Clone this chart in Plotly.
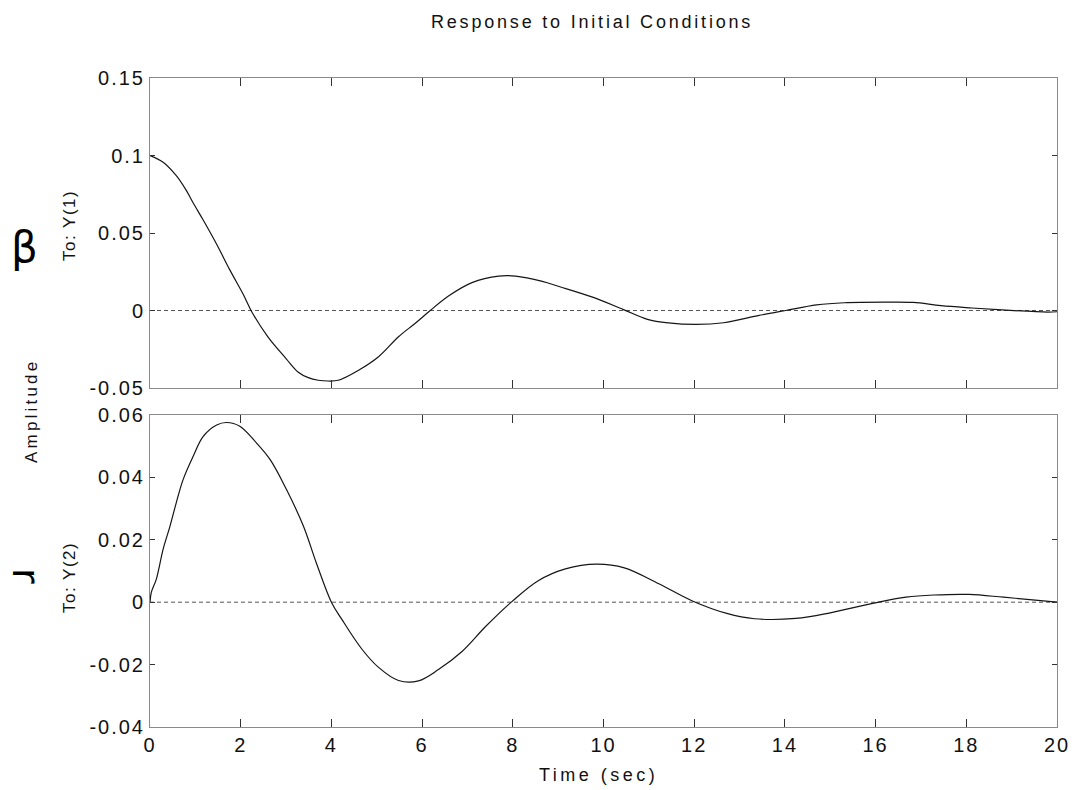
import plotly.graph_objects as go

# ---- data ----
t_top = [0, 0.29, 0.58, 0.8, 0.95, 1.17, 1.47, 1.76, 2.06, 2.24, 2.6, 3.0, 3.27, 3.49, 3.71,
         3.93, 4.15, 4.6, 5.04, 5.48, 5.85, 6.18, 6.59, 7.1, 7.69, 8.06, 8.65, 9.02, 9.76,
         10.44, 10.97, 11.43, 12.04, 12.65, 13.41, 14.02, 14.7, 15.31, 16.22, 16.83, 17.44,
         18.12, 18.88, 19.79, 20]
y_top = [0.100, 0.0957, 0.087, 0.0775, 0.0695, 0.0585, 0.0427, 0.0262, 0.0102, -0.0006,
         -0.017, -0.031, -0.0398, -0.0433, -0.045, -0.0455, -0.045, -0.0385, -0.0298,
         -0.0169, -0.0082, 0.0, 0.0095, 0.018, 0.0222, 0.0222, 0.0188, 0.0155, 0.0086,
         0.0006, -0.0057, -0.008, -0.0090, -0.0079, -0.0033, 0.0, 0.0036, 0.005, 0.0054,
         0.0052, 0.0031, 0.0016, 0.0002, -0.001, -0.0008]

t_bot = [0, 0.03, 0.14, 0.29, 0.44, 0.58, 0.73, 0.95, 1.17, 1.47, 1.69, 1.98, 2.35, 2.65,
         3.01, 3.38, 3.67, 4.0, 4.23, 4.67, 5.04, 5.48, 5.92, 6.36, 6.88, 7.40, 7.98, 8.56,
         9.16, 9.85, 10.46, 11.22, 11.96, 12.72, 13.33, 14.24, 15.0, 15.99, 16.67, 17.28,
         18.06, 18.82, 19.58, 20]
y_bot = [0.0, 0.0032, 0.0074, 0.017, 0.0243, 0.0319, 0.0393, 0.0467, 0.0531, 0.0568,
         0.0576, 0.0564, 0.051, 0.0457, 0.0361, 0.0245, 0.0125, 0.0, -0.0055, -0.015,
         -0.0209, -0.0251, -0.0252, -0.0216, -0.0158, -0.0078, 0.0002, 0.0069, 0.0107,
         0.0122, 0.011, 0.0059, 0.0004, -0.0036, -0.0053, -0.0052, -0.0034, -0.0002,
         0.0016, 0.0023, 0.0025, 0.0016, 0.0006, 0.0]

x_range = [0, 20]
x_ticks = [0, 2, 4, 6, 8, 10, 12, 14, 16, 18, 20]
y1_ticks = [-0.05, 0, 0.05, 0.1, 0.15]
y1_labels = ["-0.05", "0", "0.05", "0.1", "0.15"]
y2_ticks = [-0.04, -0.02, 0, 0.02, 0.04, 0.06]
y2_labels = ["-0.04", "-0.02", "0", "0.02", "0.04", "0.06"]

title_text = "Response to Initial Conditions"
ylabel_text = "Amplitude"
xlabel_text = "Time (sec)"
row_labels = ["To: Y(1)", "To: Y(2)"]
hand_labels = ["β", "r"]

# ---- layout geometry ----
W, H = 1076, 790
ML, MR, MT, MB = 150, 19, 78, 63
PW, PH = W - ML - MR, H - MT - MB
FONT = "Liberation Sans, Arial, Helvetica, sans-serif"


def px(x):
    return (x - ML) / PW


def py(y):
    return (H - MB - y) / PH


def spaced(s, sp):
    return '<span style="letter-spacing:%spx">%s</span>' % (sp, s)


fig = go.Figure()

for tt, yy, xa, ya in [(t_top, y_top, "x", "y"), (t_bot, y_bot, "x2", "y2")]:
    fig.add_trace(go.Scatter(x=[x_range[0], x_range[1]], y=[0, 0], mode="lines",
                             line=dict(color="#555555", width=1, dash="4px,3px"),
                             xaxis=xa, yaxis=ya, showlegend=False, hoverinfo="skip"))
    fig.add_trace(go.Scatter(x=tt, y=yy, mode="lines", line_shape="spline",
                             line=dict(color="#151515", width=1.2),
                             xaxis=xa, yaxis=ya, showlegend=False))

axis_common = dict(showline=True, linecolor="#8a8a8a", linewidth=1, mirror="ticks",
                   ticks="inside", tickcolor="#333333", showgrid=False, zeroline=False,
                   automargin=False,
                   tickfont=dict(family=FONT, size=20, color="#111111"))

top_dom = [py(388), 1.0]
bot_dom = [0.0, py(415)]

fig.update_layout(
    width=W, height=H,
    margin=dict(l=ML, r=MR, t=MT, b=MB, autoexpand=False),
    paper_bgcolor="white", plot_bgcolor="white",
    xaxis=dict(axis_common, domain=[0, 1], anchor="y", range=x_range, tickvals=x_ticks,
               showticklabels=False, ticklen=8),
    yaxis=dict(axis_common, domain=top_dom, anchor="x", range=[-0.05, 0.15],
               tickvals=y1_ticks, ticktext=[spaced(s, 2) for s in y1_labels], ticklen=5),
    xaxis2=dict(axis_common, domain=[0, 1], anchor="y2", range=x_range, tickvals=x_ticks,
                ticktext=[spaced(str(v), 2) for v in x_ticks], ticklen=8),
    yaxis2=dict(axis_common, domain=bot_dom, anchor="x2", range=[-0.04, 0.06],
                tickvals=y2_ticks, ticktext=[spaced(s, 2) for s in y2_labels], ticklen=5),
)

ann = [
    dict(text=spaced(title_text, 2.8), x=px(592), y=py(22), size=18, angle=0),
    dict(text=spaced(ylabel_text, 3.2), x=px(31), y=py(411), size=17, angle=-90),
    dict(text=spaced(row_labels[0], 1.5), x=px(69), y=py(226), size=17, angle=-90),
    dict(text=spaced(row_labels[1], 1.5), x=px(69), y=py(578), size=17, angle=-90),
    dict(text=spaced(xlabel_text, 3.5), x=px(598), y=py(775), size=18, angle=0),
]
for a in ann:
    fig.add_annotation(text=a["text"], x=a["x"], y=a["y"], xref="paper", yref="paper",
                       showarrow=False, textangle=a["angle"], xanchor="center",
                       yanchor="middle",
                       font=dict(family=FONT, size=a["size"], color="#111111"))

fig.add_annotation(text=hand_labels[0], x=px(24), y=py(248), xref="paper",
                   yref="paper", showarrow=False, textangle=0, xanchor="center",
                   yanchor="middle",
                   font=dict(family="DejaVu Sans, sans-serif", size=42, color="black"))
fig.add_annotation(text=hand_labels[1], x=px(26), y=py(576), xref="paper",
                   yref="paper", showarrow=False, textangle=90, xanchor="center",
                   yanchor="middle",
                   font=dict(family="DejaVu Sans, sans-serif", size=38, color="black"))

fig.write_html("out.html", config={"displayModeBar": False},
               post_script="document.body.style.margin='0px';"
                           "document.body.style.overflow='hidden';")
